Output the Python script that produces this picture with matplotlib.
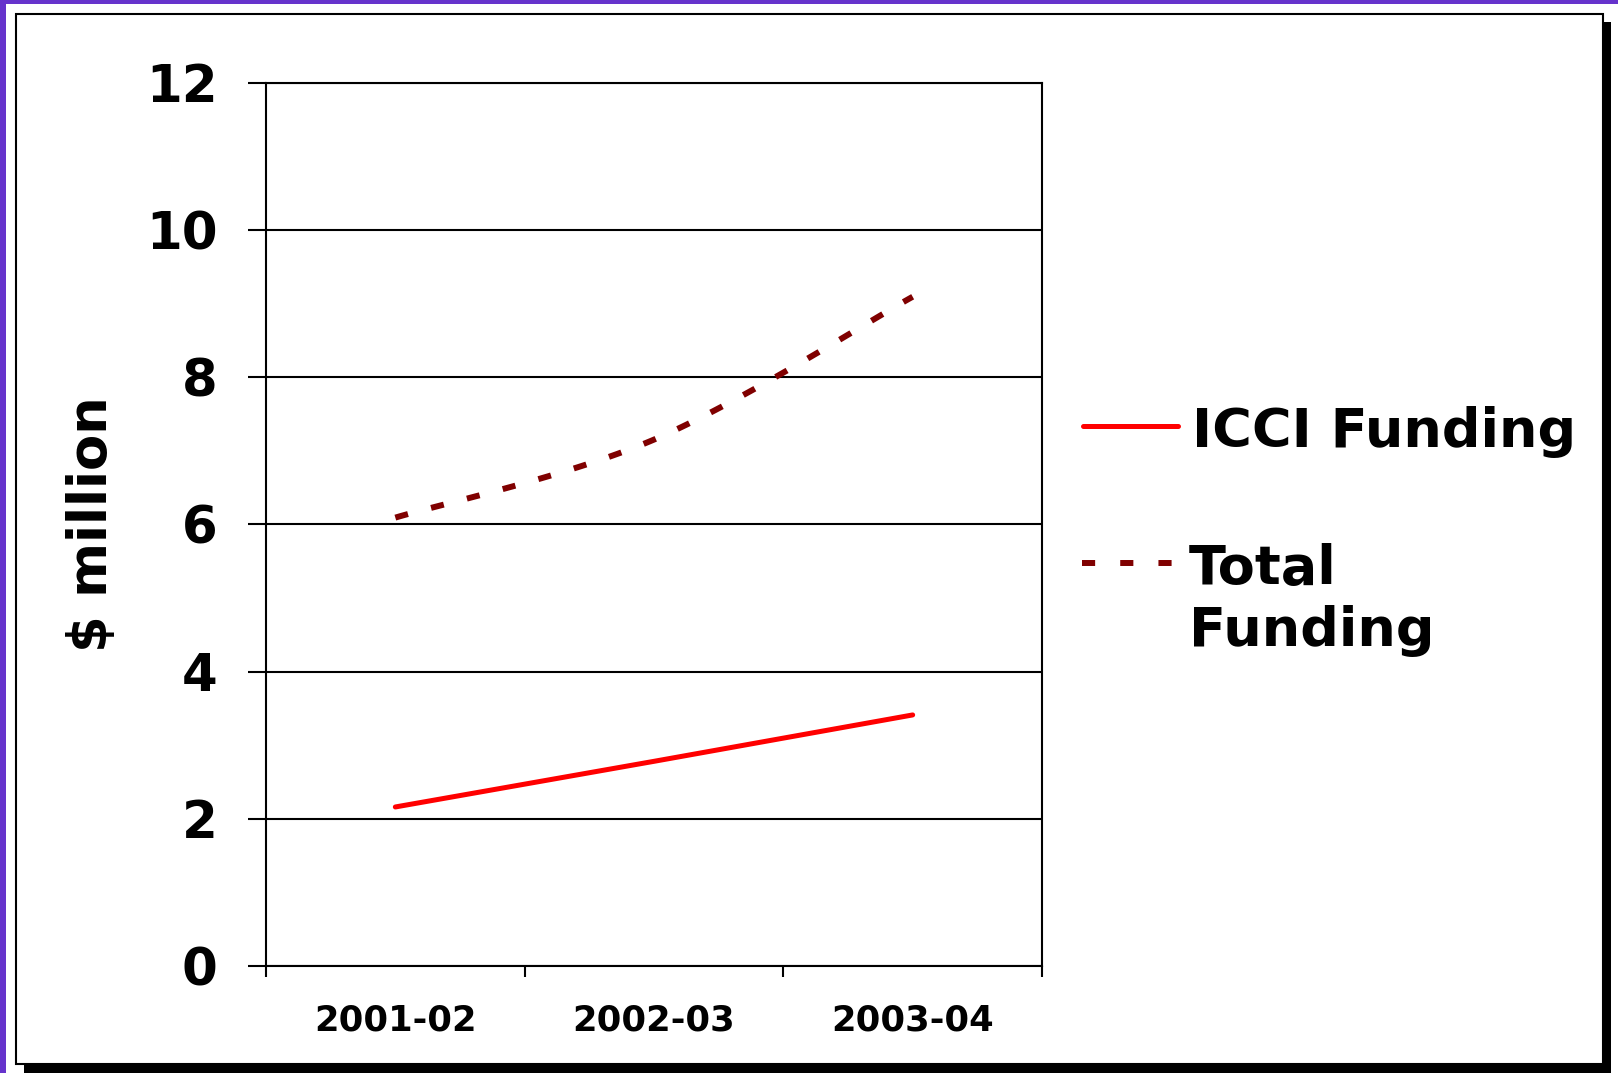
import numpy as np
import matplotlib
matplotlib.use("Agg")
import matplotlib.pyplot as plt
from matplotlib.patches import Rectangle
from matplotlib.lines import Line2D

categories = ["2001-02", "2002-03", "2003-04"]
icci_funding = [2.16, 2.78, 3.41]
total_funding = [6.09, 7.15, 9.09]
y_ticks = [0, 2, 4, 6, 8, 10, 12]

W, H = 1618, 1073
fig = plt.figure(figsize=(W / 100, H / 100), dpi=100)
fig.patch.set_facecolor("white")

def fx(px):
    return px / W

def fy(py):
    return 1 - py / H

# Decorations: purple border (left/top), framed box with shadow
fig.add_artist(Rectangle((0, 0), fx(6), 1, transform=fig.transFigure,
                         facecolor="#6633CC", edgecolor="none", zorder=-10))
fig.add_artist(Rectangle((0, fy(4)), 1, 4 / H, transform=fig.transFigure,
                         facecolor="#6633CC", edgecolor="none", zorder=-10))
fig.add_artist(Rectangle((fx(24), 0), fx(1611 - 24), fy(22), transform=fig.transFigure,
                         facecolor="black", edgecolor="none", zorder=-9))
fig.add_artist(Rectangle((fx(16), fy(1064)), fx(1603 - 16), (1064 - 14) / H,
                         transform=fig.transFigure, facecolor="white",
                         edgecolor="black", linewidth=1.5, zorder=-8))

ax = fig.add_axes([fx(266), fy(966), fx(1042 - 266), (966 - 82.5) / H])
ax.set_facecolor("none")

x = np.arange(len(categories))


def smooth(xs, ys, n=60):
    xs = np.asarray(xs, float)
    ys = np.asarray(ys, float)
    px = np.concatenate([[xs[0]], xs, [xs[-1]]])
    py = np.concatenate([[ys[0]], ys, [ys[-1]]])
    outx, outy = [], []
    for i in range(1, len(px) - 2):
        p0 = np.array([px[i - 1], py[i - 1]])
        p1 = np.array([px[i], py[i]])
        p2 = np.array([px[i + 1], py[i + 1]])
        p3 = np.array([px[i + 2], py[i + 2]])
        c1 = p1 + (p2 - p0) / 6
        c2 = p2 - (p3 - p1) / 6
        t = np.linspace(0, 1, n)[:, None]
        b = ((1 - t) ** 3) * p1 + 3 * ((1 - t) ** 2) * t * c1 + 3 * (1 - t) * t ** 2 * c2 + t ** 3 * p2
        outx.extend(b[:, 0])
        outy.extend(b[:, 1])
    return np.array(outx), np.array(outy)


sx, sy = smooth(x, total_funding)
ax.plot(x, icci_funding, color="#FF0000", linewidth=3.6, solid_capstyle="round", zorder=3)
ax.plot(sx, sy, color="#800000", linewidth=4.3, dashes=(2.2, 4.0),
        dash_capstyle="butt", zorder=3)

ax.set_xlim(-0.5, len(categories) - 0.5)
ax.set_ylim(0, 12)
ax.set_yticks(y_ticks)
ax.set_yticklabels([str(v) for v in y_ticks], fontfamily="DejaVu Sans",
                   fontweight="bold", fontsize=37)
ax.tick_params(axis="y", direction="out", length=13, width=1.5, pad=22, colors="black")

ax.set_xticks(x)
ax.set_xticklabels(categories, fontfamily="DejaVu Sans", fontweight="bold", fontsize=25.5)
ax.tick_params(axis="x", which="major", length=0, pad=27)
ax.set_xticks(np.arange(-0.5, len(categories)), minor=True)
ax.tick_params(axis="x", which="minor", direction="out", length=8, width=1.5)

ax.yaxis.grid(True, color="black", linewidth=1.5)
ax.set_axisbelow(True)
for s in ax.spines.values():
    s.set_color("black")
    s.set_linewidth(1.5)

ax.set_ylabel("$ million", fontfamily="DejaVu Sans", fontweight="bold", fontsize=38)
ax.yaxis.set_label_coords((118 - 266) / 776, 0.5)

# Legend
fig.add_artist(Line2D([fx(1083), fx(1178)], [fy(426), fy(426)], transform=fig.transFigure,
                      color="#FF0000", linewidth=3.6, solid_capstyle="round"))
fig.add_artist(Line2D([fx(1082), fx(1172)], [fy(563), fy(563)], transform=fig.transFigure,
                      color="#800000", linewidth=4.3, dashes=(2.2, 4.2), dash_capstyle="butt"))
lkw = dict(fontfamily="DejaVu Sans", fontweight="bold", fontsize=39, va="baseline", ha="left")
fig.text(fx(1192), fy(447), "ICCI Funding", **lkw)
fig.text(fx(1189), fy(584), "Total", **lkw)
fig.text(fx(1189), fy(646), "Funding", **lkw)

fig.savefig("out.png", dpi=100)
